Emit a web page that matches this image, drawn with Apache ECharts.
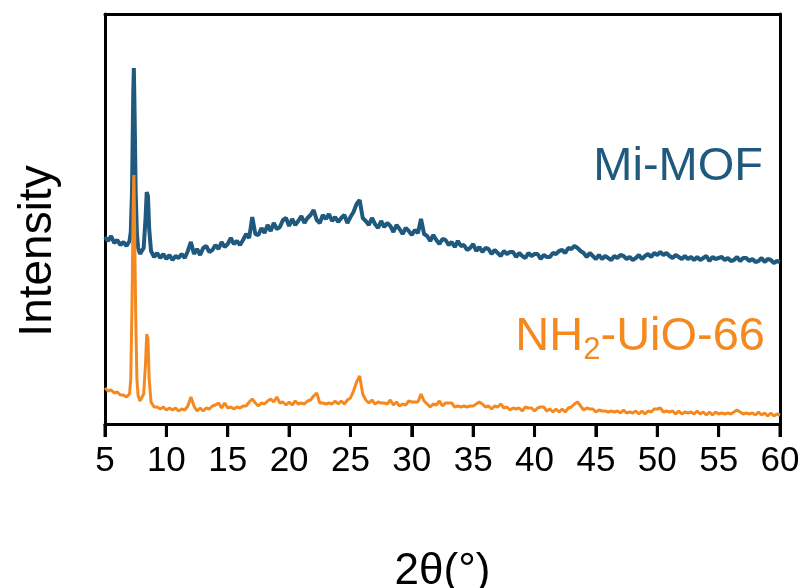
<!DOCTYPE html>
<html>
<head>
<meta charset="utf-8">
<script src="https://cdn.jsdelivr.net/npm/echarts@6/dist/echarts.min.js"></script>
<style>html,body{margin:0;padding:0;background:#fff;}#c{width:807px;height:588px;}</style>
</head>
<body>
<div id="c"></div>
<script>
// 2θ (degrees)
const twoTheta = [
  5.0,5.25,5.5,5.75,6.0,6.25,6.5,6.75,7.0,7.1,7.2,7.3,7.35,7.4,7.5,7.6,7.7,7.85,8.0,8.15,8.3,8.4,8.5,8.6,8.75,9.0,
  9.25,9.5,9.75,10.0,10.25,10.5,10.75,11.0,11.25,11.5,11.75,12.0,12.25,12.5,12.75,13.0,13.25,13.5,13.75,14.0,
  14.25,14.5,14.75,15.0,15.25,15.5,15.75,16.0,16.25,16.5,16.75,17.0,17.25,17.5,17.75,18.0,18.25,18.5,18.75,19.0,
  19.25,19.5,19.75,20.0,20.25,20.5,20.75,21.0,21.25,21.5,21.75,22.0,22.25,22.5,22.75,23.0,23.25,23.5,23.75,24.0,
  24.25,24.5,24.75,25.0,25.25,25.5,25.75,26.0,26.25,26.5,26.75,27.0,27.25,27.5,27.75,28.0,28.25,28.5,28.75,29.0,
  29.25,29.5,29.75,30.0,30.25,30.5,30.75,31.0,31.25,31.5,31.75,32.0,32.25,32.5,32.75,33.0,33.25,33.5,33.75,34.0,
  34.25,34.5,34.75,35.0,35.25,35.5,35.75,36.0,36.25,36.5,36.75,37.0,37.25,37.5,37.75,38.0,38.25,38.5,38.75,39.0,
  39.25,39.5,39.75,40.0,40.25,40.5,40.75,41.0,41.25,41.5,41.75,42.0,42.25,42.5,42.75,43.0,43.25,43.5,43.75,44.0,
  44.25,44.5,44.75,45.0,45.25,45.5,45.75,46.0,46.25,46.5,46.75,47.0,47.25,47.5,47.75,48.0,48.25,48.5,48.75,49.0,
  49.25,49.5,49.75,50.0,50.25,50.5,50.75,51.0,51.25,51.5,51.75,52.0,52.25,52.5,52.75,53.0,53.25,53.5,53.75,54.0,
  54.25,54.5,54.75,55.0,55.25,55.5,55.75,56.0,56.25,56.5,56.75,57.0,57.25,57.5,57.75,58.0,58.25,58.5,58.75,59.0,
  59.25,59.5,59.75,60.0
];

// Mi-MOF intensity (offset, arbitrary units)
const miMOF = [
  187,183,188,181,184,179,182,178,183,192,232,330,356,320,232,190,176,170,169,176,205,232,228,195,173,167,
  171,166,170,165, 169,164,168,166, 170,166,173,182, 170,175,169,176, 178,172,174,179,
  175,182,177,180, 186,180,183,179, 184,190,186,207, 190,189,196,191, 199,193,201,195,
  197,204,206,198, 205,199,203,208, 201,206,209,214, 204,201,209,205, 210,203,207,202,
  206,209,201,207, 212,220,224,206, 203,199,206,200, 196,203,197,201, 198,192,199,195,
  190,196,193,189, 194,191,205,190, 188,183,189,184, 180,185,184,179, 182,177,183,178,
  179,174,176,180, 173,177,172,176, 175,170,174,171, 168,173,170,172, 172,167,171,168,
  166,171,168,170, 170,165,169,167, 167,171,170,173, 174,171,176,175, 178,176,173,171,
  167,171,168,165, 169,165,168,166, 164,168,166,169, 168,165,167,164, 166,169,165,168,
  170,167,171,169, 172,169,171,168, 166,169,167,165, 168,165,167,164, 167,164,166,168,
  163,167,165,166, 167,164,166,163, 164,167,163,166, 166,163,165,162, 163,166,162,165,
  164,161,163,162
];

// NH2-UiO-66 intensity (arbitrary units)
const uio66 = [
  36,33,34,31,32,29,29,27,30,45,120,220,249,210,110,45,28,23,24,30,60,90,85,45,22,17,
  17,15,17,14, 16,14,16,13, 15,14,18,27, 18,13,16,13, 16,15,18,19,
  21,16,21,16, 17,15,17,16, 18,18,22,25, 21,18,21,20, 23,25,22,27,
  21,22,19,22, 19,23,20,21, 20,23,24,28, 31,21,21,20, 21,20,23,20,
  23,20,24,26, 33,42,48,30, 24,21,24,20, 22,21,21,20, 24,19,22,18,
  20,19,23,22, 22,22,30,23, 20,17,20,19, 23,18,21,21, 21,17,18,17,
  18,17,18,18, 20,22,20,17, 18,15,18,17, 20,16,17,14, 16,15,16,13,
  17,16,16,13, 16,17,17,13, 15,12,15,12, 15,12,16,17, 20,22,18,14,
  16,15,15,12, 14,13,13,12, 13,12,13,11, 14,11,12,11, 13,10,13,10,
  13,12,15,15, 16,12,13,12, 13,10,13,10, 12,11,12,10, 13,10,12,9,
  12,9,12,10, 11,10,11,10, 12,14,12,10, 11,10,11,9, 12,9,11,8,
  11,8,10,9
];

const xTicks = [5,10,15,20,25,30,35,40,45,50,55,60];

const blue = '#1f5a7e';
const orange = '#f5891f';
const font = 'Liberation Sans, Arial, sans-serif';

const chart = echarts.init(document.getElementById('c'));
chart.setOption({
  animation: false,
  grid: {left: 105, right: 27, top: 14, bottom: 164, outerBoundsMode: 'none'},
  xAxis: [
    {
      type: 'value', min: xTicks[0], max: xTicks[xTicks.length-1], interval: 5, position: 'bottom',
      name: '2θ(°)', nameLocation: 'middle', nameGap: 126,
      nameTextStyle: {fontSize: 44, color: '#000', fontFamily: font},
      axisLine: {show: true, onZero: false, lineStyle: {color: '#000', width: 3}},
      axisTick: {show: true, length: 13, lineStyle: {color: '#000', width: 3}},
      axisLabel: {fontSize: 35, color: '#000', fontFamily: font, margin: 20},
      splitLine: {show: false}
    },
    {
      type: 'value', min: xTicks[0], max: xTicks[xTicks.length-1], interval: 5, position: 'top',
      axisLine: {show: true, onZero: false, lineStyle: {color: '#000', width: 3}},
      axisTick: {show: false}, axisLabel: {show: false}, splitLine: {show: false}
    }
  ],
  yAxis: [
    {
      type: 'value', min: 0, max: 410, position: 'left',
      axisLine: {show: true, onZero: false, lineStyle: {color: '#000', width: 3}},
      axisTick: {show: false}, axisLabel: {show: false}, splitLine: {show: false}
    },
    {
      type: 'value', min: 0, max: 410, position: 'right',
      axisLine: {show: true, onZero: false, lineStyle: {color: '#000', width: 3}},
      axisTick: {show: false}, axisLabel: {show: false}, splitLine: {show: false}
    }
  ],
  series: [
    {name: 'Mi-MOF', type: 'line', data: twoTheta.map((x,i)=>[x, miMOF[i]]), showSymbol: false,
     lineStyle: {color: blue, width: 4}, z: 3},
    {name: 'NH2-UiO-66', type: 'line', data: twoTheta.map((x,i)=>[x, uio66[i]]), showSymbol: false,
     lineStyle: {color: orange, width: 3}, z: 4},
    {name: 'ticks', type: 'custom', data: xTicks.map(v => [v, 0]), clip: false, silent: true, z: 10,
     renderItem: function (params, api) {
       const p = api.coord([api.value(0), 0]);
       return {type: 'line', shape: {x1: p[0], y1: p[1], x2: p[0], y2: p[1] + 13},
               style: {stroke: '#000', lineWidth: 3}};
     }}
  ],
  graphic: [
    {type: 'text', x: 38, y: 251, rotation: Math.PI / 2,
     style: {text: 'Intensity', fill: '#000', font: '46px ' + font, align: 'center', verticalAlign: 'middle'}},
    {type: 'text', right: 44, top: 144, style: {text: 'Mi-MOF', fill: blue, font: '47px ' + font}},
    {type: 'text', right: 42, top: 314, style: {
      text: '{a|NH}{s|2}{a|-UiO-66}',
      rich: {
        a: {fontSize: 47, fill: orange, fontFamily: font, color: orange},
        s: {fontSize: 31, fill: orange, fontFamily: font, color: orange, padding: [26,0,0,0]}
      }
    }}
  ]
});
</script>
</body>
</html>
